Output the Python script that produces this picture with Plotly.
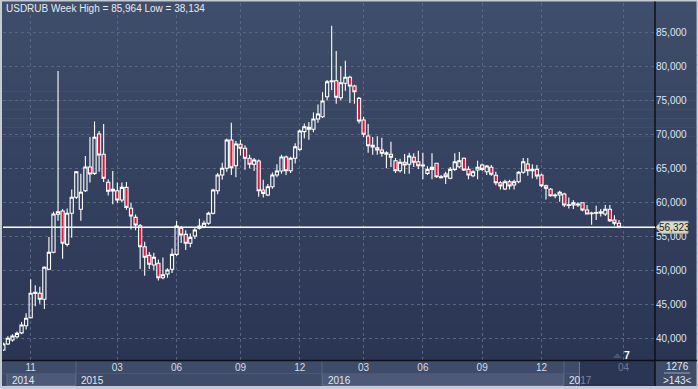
import plotly.graph_objects as go

# ---------------- data (weekly USDRUB) ----------------
open_ = [38.28, 39.16, 39.75, 40.24, 40.80, 41.85, 43.03, 46.60, 46.62, 45.74,
         50.15, 52.65, 58.24, 58.72, 53.82, 58.38, 60.74, 58.97, 61.71, 65.19,
         64.26, 70.04, 67.06, 62.94, 61.91, 61.71, 60.34, 62.20, 59.12, 57.79,
         56.56, 53.47, 52.20, 50.78, 51.03, 48.91, 49.45, 50.15, 52.35, 56.18,
         55.29, 53.97, 55.04, 56.18, 56.41, 56.91, 58.38, 61.71, 64.01, 65.00,
         69.16, 65.38, 68.53, 67.94, 66.47, 65.59, 66.07, 61.81, 61.07, 62.29,
         64.01, 64.60, 66.67, 64.65, 66.47, 67.79, 70.39, 71.03, 70.74, 72.25,
         72.59, 75.53, 77.74, 77.88, 75.38, 77.50, 78.38, 77.10, 75.29, 72.10,
         69.75, 68.13, 68.03, 67.69, 67.06, 67.06, 66.12, 64.65, 65.88, 65.59,
         66.62, 65.97, 65.34, 64.26, 64.85, 65.74, 63.62, 64.16, 63.53, 64.85,
         65.24, 66.47, 64.85, 63.91, 64.75, 65.49, 64.50, 65.15, 63.97, 62.88,
         61.96, 63.03, 62.54, 63.03, 64.41, 65.63, 64.65, 64.85, 64.01, 62.44,
         61.91, 60.97, 61.07, 61.22, 59.55, 59.60, 59.60, 59.94, 58.87, 58.33,
         58.38, 58.38, 58.28, 58.97, 57.40, 56.91]
high = [39.40, 40.30, 40.60, 41.00, 42.40, 43.70, 48.70, 47.80, 47.60, 50.60,
        54.90, 58.60, 79.30, 59.00, 59.10, 61.90, 64.60, 64.20, 66.80, 69.60,
        71.90, 70.50, 71.50, 63.40, 64.60, 62.90, 62.90, 63.00, 59.90, 58.20,
        56.80, 54.20, 52.70, 52.60, 51.60, 51.90, 50.30, 53.20, 57.25, 56.50,
        55.90, 55.40, 56.30, 57.60, 57.30, 58.60, 62.00, 64.30, 65.80, 69.40,
        71.70, 69.00, 69.20, 68.40, 67.00, 66.50, 66.30, 63.30, 62.70, 64.40,
        65.60, 67.00, 66.90, 66.70, 68.70, 70.70, 71.60, 71.80, 73.20, 74.40,
        76.20, 78.00, 85.964, 82.25, 80.00, 80.80, 78.60, 77.30, 75.50, 72.60,
        71.50, 69.60, 69.70, 69.50, 67.50, 68.90, 66.50, 66.40, 67.10, 67.30,
        67.20, 67.60, 67.30, 65.30, 67.20, 65.80, 64.00, 64.50, 65.20, 67.20,
        67.40, 66.60, 65.30, 64.70, 66.10, 65.70, 65.50, 65.50, 64.50, 63.10,
        63.30, 63.30, 63.30, 64.60, 66.50, 66.50, 65.60, 65.50, 64.20, 62.60,
        62.10, 61.30, 61.70, 61.40, 60.70, 60.30, 60.00, 60.00, 59.60, 58.60,
        59.50, 59.00, 59.60, 59.60, 58.10, 57.40]
low = [38.134, 39.00, 39.50, 40.00, 40.60, 41.30, 42.90, 44.70, 45.10, 44.30,
       50.00, 52.50, 57.30, 51.70, 53.50, 54.80, 60.50, 57.30, 61.50, 62.90,
       64.00, 64.50, 63.00, 61.00, 59.70, 59.90, 60.00, 58.90, 56.00, 55.90,
       50.20, 49.20, 50.20, 50.00, 48.50, 48.70, 48.90, 49.60, 52.10, 54.00,
       53.00, 53.40, 54.60, 56.00, 56.20, 56.70, 58.20, 61.20, 63.30, 64.50,
       64.00, 63.70, 66.90, 64.80, 65.00, 64.60, 60.80, 60.70, 60.90, 62.00,
       63.70, 64.20, 64.00, 64.30, 65.70, 67.50, 69.40, 69.20, 70.30, 71.70,
       72.40, 75.00, 76.50, 74.50, 75.00, 76.40, 74.60, 74.50, 71.60, 69.60,
       67.30, 67.00, 67.00, 66.70, 65.00, 65.20, 64.30, 64.40, 64.20, 64.20,
       65.20, 64.90, 63.40, 64.00, 63.40, 63.60, 63.50, 62.70, 63.40, 64.60,
       65.00, 64.60, 63.40, 63.70, 63.40, 64.60, 64.00, 63.90, 62.50, 61.90,
       61.80, 61.90, 61.90, 62.80, 64.20, 63.90, 63.50, 63.40, 62.20, 60.40,
       60.80, 60.60, 60.10, 59.30, 59.10, 59.00, 59.30, 58.70, 58.20, 56.70,
       57.40, 57.90, 58.00, 57.10, 56.60, 56.20]
close = [39.16, 40.00, 40.34, 40.73, 41.96, 42.94, 46.62, 46.75, 45.74, 50.44,
         52.65, 58.28, 58.62, 53.97, 58.38, 60.74, 64.50, 61.47, 65.19, 64.16,
         69.56, 66.96, 63.53, 61.62, 61.66, 60.34, 62.20, 59.26, 57.99, 56.66,
         53.47, 51.91, 50.88, 51.91, 48.91, 49.35, 50.04, 52.35, 56.51, 55.19,
         53.97, 54.85, 55.93, 56.51, 56.91, 58.38, 61.81, 64.01, 65.00, 69.16,
         65.09, 68.57, 67.94, 66.47, 65.59, 66.22, 61.71, 61.32, 62.29, 64.01,
         64.60, 66.67, 64.65, 66.47, 68.18, 70.49, 71.12, 70.74, 72.25, 72.98,
         74.90, 77.74, 77.88, 75.44, 77.59, 78.38, 77.10, 76.26, 71.96, 70.00,
         68.32, 68.38, 67.69, 67.21, 67.29, 66.62, 64.65, 65.88, 65.49, 66.81,
         65.88, 65.38, 65.49, 64.85, 65.15, 63.76, 63.76, 63.76, 64.85, 65.97,
         66.12, 64.75, 64.01, 64.50, 65.15, 64.85, 65.34, 64.12, 62.88, 62.40,
         63.03, 62.40, 63.03, 64.41, 65.97, 64.65, 64.85, 63.87, 62.44, 62.06,
         60.97, 61.07, 61.47, 59.60, 59.65, 59.94, 59.75, 58.87, 58.28, 58.43,
         58.50, 58.62, 58.97, 57.30, 56.91, 56.323]
bars = list(range(len(close)))

y_ticks = [40, 45, 50, 55, 60, 65, 70, 75, 80, 85]
y_labels = ["40,000", "45,000", "50,000", "55,000", "60,000",
            "65,000", "70,000", "75,000", "80,000", "85,000"]
month_ticks = [6, 25, 38, 52, 65, 79, 92, 105, 118, 136]
month_labels = ["11", "03", "06", "09", "12", "03", "06", "09", "12",
                "<span style='color:#6f7b93'>04</span>"]
years = ["2014", "2015", "2016", "20<span style='color:#7c879c'>17</span>"]

title = "USDRUB Week High = 85,964 Low = 38,134"
bars_total = "1276"
bars_visible = ">143<"

# ---------------- layout helpers ----------------
W, H = 698, 389
ML, MR, MT, MB = 3, 43, 3, 29
PW, PH = W - ML - MR, H - MT - MB
YMIN, YMAX = 36.81, 89.31


def px(x):
    return (x - ML) / PW


def py(y):
    return (H - MB - y) / PH


def pv(v):
    return (v - YMIN) / (YMAX - YMIN)


FONT = "Liberation Sans, Arial, sans-serif"

fig = go.Figure()
fig.add_trace(go.Candlestick(
    x=bars, open=open_, high=high, low=low, close=close,
    increasing=dict(line=dict(color="#ffffff", width=1.1), fillcolor="rgba(0,0,0,0)"),
    decreasing=dict(line=dict(color="#ffffff", width=1.1), fillcolor="#e2163c"),
    whiskerwidth=0, hoverinfo="skip", showlegend=False,
))

shapes = []
# gradient background (plot + right axis panel)
n = 40
top_c = (63, 78, 106)
bot_c = (42, 53, 83)
y0p, y1p = 1.5, 360.5
step = (y1p - y0p) / n
for k in range(n):
    t = (k + 0.5) / n
    c = tuple(round(top_c[i] + (bot_c[i] - top_c[i]) * t) for i in range(3))
    ya = y0p + k * step
    yb = ya + step + 0.6
    shapes.append(dict(type="rect", xref="paper", yref="paper", layer="below",
                       x0=px(2), x1=px(696.5), y0=py(min(yb, y1p)), y1=py(ya),
                       fillcolor="rgb(%d,%d,%d)" % c, line=dict(width=0)))
# bottom time panel
shapes.append(dict(type="rect", xref="paper", yref="paper", layer="below",
                   x0=px(2), x1=px(696.5), y0=py(386), y1=py(360.5),
                   fillcolor="#3e4c69", line=dict(width=0)))
# year boxes (lighter ones)
for xa, xb in [(7, 75.5), (322.5, 563.5)]:
    shapes.append(dict(type="rect", xref="paper", yref="paper", layer="below",
                       x0=px(xa), x1=px(xb), y0=py(385.5), y1=py(373.5),
                       fillcolor="#4c5a77", line=dict(color="#5c6a86", width=1)))
# row separator
shapes.append(dict(type="line", xref="paper", yref="paper", layer="below",
                   x0=px(2), x1=px(655), y0=py(373.5), y1=py(373.5),
                   line=dict(color="#4a5874", width=1)))
# year dividers
for xd in [76, 322, 564]:
    shapes.append(dict(type="line", xref="paper", yref="paper", layer="below",
                       x0=px(xd), x1=px(xd), y0=py(386), y1=py(361),
                       line=dict(color="#56647f", width=1)))
# dark (current) region in time panel
shapes.append(dict(type="rect", xref="paper", yref="paper", layer="below",
                   x0=px(579.5), x1=px(655), y0=py(386), y1=py(361),
                   fillcolor="#2b3654", line=dict(width=0)))
shapes.append(dict(type="line", xref="paper", yref="paper", layer="below",
                   x0=px(579.5), x1=px(579.5), y0=py(385), y1=py(362),
                   line=dict(color="#6b7890", width=1)))
# bars-count box separator
shapes.append(dict(type="line", xref="paper", yref="paper", layer="above",
                   x0=px(664), x1=px(690), y0=py(373), y1=py(373),
                   line=dict(color="#9aa4b6", width=1)))
# axis frame lines
shapes.append(dict(type="line", xref="paper", yref="paper", layer="above",
                   x0=px(2), x1=px(697), y0=py(360.5), y1=py(360.5),
                   line=dict(color="#0c1017", width=1.5)))
shapes.append(dict(type="line", xref="paper", yref="paper", layer="above",
                   x0=px(655), x1=px(655), y0=py(386), y1=py(1.5),
                   line=dict(color="#0c1017", width=1.5)))
# current price line
last = close[-1]
shapes.append(dict(type="line", xref="paper", yref="y", layer="above",
                   x0=0, x1=1, y0=last, y1=last,
                   line=dict(color="#ffffff", width=1.5)))
# current price label box (arrow shape)
yc = pv(last)
hh = 6 / PH
path = "M %f %f L %f %f L %f %f L %f %f L %f %f Z" % (
    px(656), yc,
    px(661), yc + hh,
    px(688), yc + hh,
    px(688), yc - hh,
    px(661), yc - hh,
)
shapes.append(dict(type="path", xref="paper", yref="paper", layer="above",
                   path=path, fillcolor="#dadac6", line=dict(color="#a9a996", width=1)))
# small marker triangle near "7"
tri = "M %f %f L %f %f L %f %f Z" % (px(613), py(358), px(621.5), py(358), px(617.2), py(353))
shapes.append(dict(type="path", xref="paper", yref="paper", layer="above",
                   path=tri, fillcolor="#4b5469", line=dict(width=0)))

annotations = [
    dict(text=title, xref="paper", yref="paper", x=px(4), y=py(8.5),
         xanchor="left", yanchor="middle", showarrow=False,
         font=dict(family=FONT, size=10, color="#e6eaf2")),
    dict(text=("%.3f" % last).replace(".", ","), xref="paper", yref="paper",
         x=px(674.5), y=yc, xanchor="center", yanchor="middle", showarrow=False,
         font=dict(family=FONT, size=10, color="#1a1a1a")),
    dict(text="<b>7</b>", xref="paper", yref="paper", x=px(626.5), y=py(355),
         xanchor="center", yanchor="middle", showarrow=False,
         font=dict(family=FONT, size=10.5, color="#ffffff")),
    dict(text=bars_total, xref="paper", yref="paper", x=px(677), y=py(366.5),
         xanchor="center", yanchor="middle", showarrow=False,
         font=dict(family=FONT, size=10, color="#e2e7f0")),
    dict(text=bars_visible, xref="paper", yref="paper", x=px(677), y=py(380),
         xanchor="center", yanchor="middle", showarrow=False,
         font=dict(family=FONT, size=10, color="#e2e7f0")),
]
for label, xl in zip(years, [10, 79, 326, 567]):
    annotations.append(dict(text=label, xref="paper", yref="paper", x=px(xl), y=py(380),
                            xanchor="left", yanchor="middle", showarrow=False,
                            font=dict(family=FONT, size=10, color="#e2e7f0")))

fig.update_layout(
    width=W, height=H,
    margin=dict(l=ML, r=MR, t=MT, b=MB, autoexpand=False),
    paper_bgcolor="#c5cbd5",
    plot_bgcolor="rgba(0,0,0,0)",
    boxgap=0.18, boxgroupgap=0.15,
    shapes=shapes, annotations=annotations,
    showlegend=False,
    xaxis=dict(range=[-0.07, 142.9], rangeslider=dict(visible=False),
               tickmode="array", tickvals=month_ticks, ticktext=month_labels,
               showgrid=True, gridcolor="#59667f", griddash="3px,3px", gridwidth=1,
               zeroline=False, showline=False, ticks="",
               tickfont=dict(family=FONT, size=10, color="#d3dbea"),
               fixedrange=True),
    yaxis=dict(range=[YMIN, YMAX], side="right",
               tickmode="array", tickvals=y_ticks, ticktext=y_labels,
               showgrid=True, gridcolor="#59667f", griddash="3px,3px", gridwidth=1,
               zeroline=False, showline=False, ticks="",
               tickfont=dict(family=FONT, size=10, color="#dde4f2"),
               fixedrange=True),
)

fig.write_html("out.html", config={"displayModeBar": False},
               post_script="document.body.style.margin='0';document.body.style.overflow='hidden';")
